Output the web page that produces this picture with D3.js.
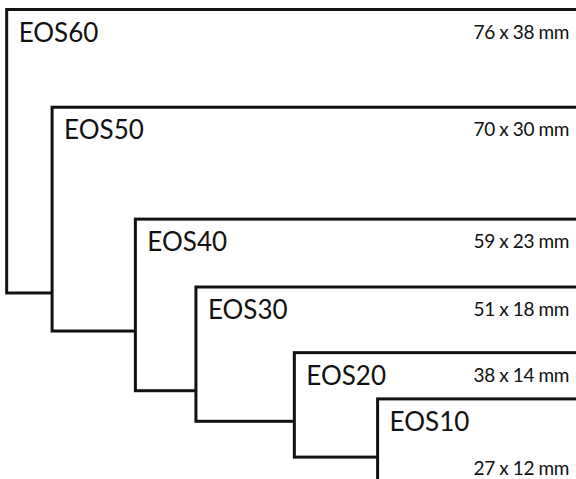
<!DOCTYPE html>
<html>
<head>
<meta charset="utf-8">
<script src="https://cdn.jsdelivr.net/npm/d3@7"></script>
<style>
  body { margin: 0; background: #fff; }
  svg { display: block; }
</style>
</head>
<body>
<div id="plot"></div>
<script>

// label sizes, in mm

  var models = ["EOS60", "EOS50", "EOS40", "EOS30", "EOS20", "EOS10"];
  var widths = [76, 70, 59, 51, 38, 27];
  var heights = [38, 30, 23, 18, 14, 12];
  var offsets = [0, 13.1, 28.1, 37.2, 46, 52.2];   // top of each label below the first, mm

  var w = 576;
  var h = 479;
  var right = 582;
  var top0 = 9.5;

  var xmm = d3.scaleLinear()
      .domain([0, 100])
      .range([0, 757]);

  var ymm = d3.scaleLinear()
      .domain([0, 100])
      .range([0, 746]);

  var svg = d3.select("div#plot")
    .append("svg")
      .attr("width", w)
      .attr("height", h);

  var boxes = svg.selectAll("g.box")
      .data(models)
    .enter().append("g")
      .attr("class", "box")
      .attr("transform", (d, i) => `translate (${right - xmm(widths[i])}, ${top0 + ymm(offsets[i])})`);

  boxes.append("rect")
      .attr("x", 0)
      .attr("y", 0)
      .attr("width", (d, i) => xmm(widths[i]) + 10)
      .attr("height", (d, i) => ymm(heights[i]))
      .attr("fill", "#fff")
      .attr("stroke", "#111")
      .attr("stroke-width", 3);

  boxes.append("text")
      .attr("x", 12)
      .attr("y", 32)
      .attr("font-family", "Lato, sans-serif")
      .attr("font-size", 26)
      .attr("fill", "#111")
      .text(d => d);

// size text, right aligned against the window edge; the smallest one sits low in its box

  boxes.append("text")
      .attr("x", (d, i) => w - 7 - (right - xmm(widths[i])))
      .attr("y", (d, i) => i == models.length - 1 ? 76 : 29)
      .attr("text-anchor", "end")
      .attr("font-family", "Lato, sans-serif")
      .attr("font-size", 19)
      .attr("letter-spacing", -0.4)
      .attr("fill", "#111")
      .text((d, i) => `${widths[i]} x ${heights[i]} mm`);

</script>
</body>
</html>
